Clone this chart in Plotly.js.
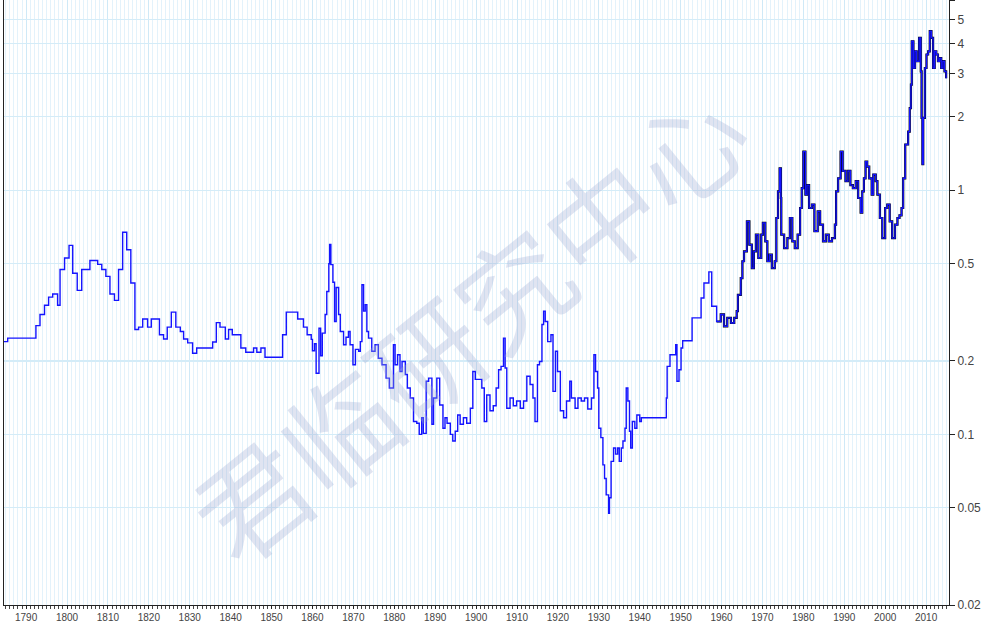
<!DOCTYPE html>
<html>
<head>
<meta charset="utf-8">
<script src="https://cdn.plot.ly/plotly-3.0.1.min.js"></script>
<style>html,body{margin:0;padding:0;background:#fff;}#chart{width:986px;height:624px;}</style>
</head>
<body>
<div id="chart"></div>
<script>
// Annual step data (1784-1859)
const annualYears = [1784.5,1785.5,1792.4,1793.4,1794.5,1795.5,1796.5,1797.7,1798.3,1799.4,1800.5,1801.4,1802.5,1803.6,1805.6,1807.5,1808.5,1809.5,1810.5,1811.6,1812.6,1813.6,1814.6,1815.6,1816.6,1817.5,1818.5,1819.7,1820.6,1822.6,1823.6,1824.5,1825.5,1826.6,1827.7,1828.5,1829.5,1830.7,1831.7,1835.6,1836.5,1837.4,1838.7,1839.5,1840.4,1842.5,1843.7,1845.6,1846.4,1847.4,1848.4,1852.7,1853.6,1856.4,1857.8,1858.7];
const annualValues = [0.240,0.248,0.279,0.31,0.338,0.365,0.376,0.338,0.474,0.528,0.595,0.457,0.389,0.474,0.516,0.497,0.474,0.444,0.376,0.354,0.474,0.673,0.571,0.417,0.269,0.275,0.297,0.275,0.297,0.256,0.246,0.275,0.317,0.275,0.264,0.246,0.237,0.215,0.226,0.239,0.287,0.275,0.246,0.269,0.256,0.226,0.217,0.226,0.217,0.226,0.207,0.256,0.317,0.297,0.275,0.256];

// Sub-annual data (1859-1958)
const periodYears = [1859.7,1860.0,1860.5,1860.9,1861.6,1862.0,1862.4,1863.1,1863.5,1864.0,1864.2,1864.5,1865.0,1865.4,1865.8,1866.4,1866.8,1867.6,1868.2,1868.8,1869.2,1869.9,1870.5,1871.3,1871.7,1872.1,1872.5,1872.9,1873.3,1873.7,1874.5,1875.3,1876.1,1877.0,1878.0,1878.8,1879.8,1880.2,1880.8,1881.4,1881.9,1882.7,1883.2,1883.9,1884.7,1885.5,1886.1,1886.7,1887.1,1887.8,1888.4,1889.2,1889.6,1890.4,1891.1,1891.9,1892.4,1892.9,1893.7,1894.3,1894.9,1895.5,1896.1,1896.9,1897.7,1898.6,1899.2,1899.8,1900.6,1901.4,1902.0,1902.6,1903.4,1904.2,1904.9,1905.5,1906.1,1906.7,1907.1,1907.5,1908.3,1909.1,1909.9,1910.8,1911.6,1912.4,1913.2,1913.9,1914.4,1915.0,1915.5,1916.1,1916.5,1916.9,1917.5,1918.3,1918.8,1919.4,1919.9,1920.6,1921.4,1922.1,1922.9,1923.3,1924.2,1924.9,1925.7,1926.5,1927.3,1928.2,1928.8,1929.2,1929.7,1930.0,1930.5,1931.0,1931.4,1931.8,1932.4,1932.6,1933.0,1933.6,1934.1,1934.6,1935.0,1935.5,1935.9,1936.4,1936.7,1937.1,1937.5,1937.8,1938.2,1938.8,1939.3,1940.0,1940.4,1946.5,1946.7,1947.4,1948.8,1949.1,1949.6,1950.1,1950.5,1952.8,1955.0,1955.7,1956.9,1957.6];
const periodValues = [0.245,0.22,0.235,0.178,0.272,0.21,0.26,0.31,0.385,0.50,0.60,0.496,0.42,0.29,0.40,0.31,0.264,0.233,0.25,0.264,0.233,0.193,0.223,0.219,0.24,0.41,0.32,0.34,0.264,0.248,0.219,0.233,0.205,0.193,0.17,0.155,0.233,0.193,0.212,0.181,0.199,0.176,0.155,0.141,0.113,0.111,0.100,0.117,0.101,0.165,0.17,0.110,0.141,0.17,0.132,0.106,0.117,0.111,0.100,0.094,0.103,0.12,0.11,0.117,0.111,0.128,0.181,0.168,0.168,0.155,0.113,0.145,0.125,0.131,0.155,0.184,0.19,0.248,0.187,0.128,0.141,0.131,0.137,0.128,0.137,0.173,0.16,0.141,0.113,0.193,0.199,0.282,0.32,0.29,0.24,0.256,0.15,0.219,0.181,0.125,0.117,0.137,0.165,0.141,0.128,0.141,0.137,0.141,0.127,0.141,0.212,0.181,0.155,0.106,0.097,0.075,0.066,0.0565,0.0475,0.055,0.0775,0.088,0.083,0.088,0.0775,0.088,0.094,0.106,0.155,0.137,0.103,0.088,0.113,0.106,0.12,0.113,0.117,0.141,0.19,0.212,0.233,0.165,0.184,0.226,0.242,0.30,0.362,0.417,0.463,0.335];

// Modern data (1958-2015)
const modernYears = [1958.8,1959.8,1960.6,1961.4,1962.3,1963.1,1963.7,1964.0,1964.7,1965.1,1965.5,1966.2,1966.8,1967.4,1967.9,1968.4,1969.0,1969.7,1970.1,1970.7,1971.2,1971.7,1972.3,1973.0,1973.4,1973.8,1974.2,1974.5,1974.6,1975.3,1976.1,1976.7,1977.3,1977.9,1978.6,1979.2,1979.6,1980.0,1980.5,1980.9,1981.4,1982.1,1982.7,1983.5,1984.1,1984.8,1985.5,1986.2,1987.0,1987.7,1988.0,1988.5,1989.1,1989.6,1990.3,1990.9,1991.5,1992.1,1992.8,1993.4,1994.0,1994.4,1994.8,1995.2,1995.6,1996.1,1996.7,1997.1,1997.7,1998.1,1998.7,1999.3,2000.0,2000.5,2001.1,2001.7,2002.4,2003.0,2003.5,2004.0,2004.4,2004.9,2005.6,2006.0,2006.3,2006.5,2006.9,2007.3,2007.7,2008.3,2008.7,2008.9,2009.1,2009.3,2009.7,2010.1,2010.5,2010.9,2011.3,2011.7,2012.1,2012.5,2012.9,2013.3,2013.7,2014.1,2014.5,2014.9];
const modernValues = [0.29,0.31,0.277,0.30,0.286,0.30,0.32,0.373,0.437,0.512,0.562,0.746,0.599,0.48,0.562,0.658,0.528,0.658,0.735,0.618,0.512,0.545,0.48,0.512,0.77,0.99,1.23,0.93,0.658,0.58,0.637,0.77,0.618,0.58,0.658,0.846,1.02,1.44,0.96,1.05,0.846,0.874,0.68,0.82,0.723,0.618,0.658,0.618,0.637,0.723,0.99,1.12,1.44,1.20,1.09,1.20,1.05,1.02,1.09,0.93,0.81,0.99,1.12,1.31,1.25,1.12,0.96,1.16,1.09,0.96,0.77,0.637,0.846,0.874,0.746,0.637,0.723,0.77,0.79,0.846,1.12,1.54,1.74,2.17,2.71,4.08,3.17,3.71,3.38,4.21,3.07,1.98,1.28,1.98,3.17,3.6,3.71,4.49,4.21,3.17,3.71,3.6,3.38,3.48,3.17,3.38,3.07,2.88];

const decadeTicks = [1790,1800,1810,1820,1830,1840,1850,1860,1870,1880,1890,1900,1910,1920,1930,1940,1950,1960,1970,1980,1990,2000,2010];
const yTickVals = [0.02,0.05,0.1,0.2,0.5,1,2,3,4,5,6];
const yTickText = ['0.02','0.05','0.1','0.2','0.5','1','2','3','4','5','6'];
const watermark = '君临研究中心';

const allYears = annualYears.concat(periodYears, modernYears);
const allValues = annualValues.concat(periodValues, modernValues);

const traces = [
  {x: modernYears, y: modernValues, type: 'scatter', mode: 'lines',
   line: {color: '#000000', width: 2.2, shape: 'hv'}, hoverinfo: 'skip', showlegend: false},
  {x: allYears, y: allValues, type: 'scatter', mode: 'lines',
   line: {color: '#1414ff', width: 1.4, shape: 'hv'}, showlegend: false}
];

const layout = {
  width: 986, height: 624,
  margin: {l: 4, r: 37, t: 0, b: 19},
  paper_bgcolor: '#ffffff', plot_bgcolor: '#ffffff',
  font: {family: 'Liberation Sans, Arial, sans-serif', size: 11, color: '#444'},
  xaxis: {
    range: [1784.6, 2015.6],
    tickvals: decadeTicks,
    ticks: 'outside', ticklen: 3, tickcolor: '#222', tickwidth: 1,
    showline: true, linecolor: '#222', linewidth: 1,
    showgrid: true, gridcolor: '#cfe9f7', gridwidth: 1,
    minor: {dtick: 1, tick0: 1790, ticks: 'outside', ticklen: 3, tickcolor: '#444', showgrid: true, gridcolor: '#e3f2fb', gridwidth: 1},
    zeroline: false,
    tickfont: {size: 10, color: '#444'}
  },
  yaxis: {
    type: 'log', side: 'right',
    range: [Math.log10(0.02), Math.log10(6.02)],
    tickvals: yTickVals, ticktext: yTickText,
    ticks: 'outside', ticklen: 5, tickcolor: '#222',
    showline: true, mirror: true, linecolor: '#222', linewidth: 1,
    showgrid: true, gridcolor: '#d4ecf8', gridwidth: 1.2,
    zeroline: false,
    tickfont: {size: 12, color: '#444'}
  },
  annotations: [{
    xref: 'paper', yref: 'paper', x: 0.49, y: 0.47,
    text: watermark, showarrow: false, textangle: -39,
    font: {family: 'Noto Sans CJK SC', size: 112, color: 'rgba(160,172,210,0.32)'}
  }]
};

Plotly.newPlot('chart', traces, layout, {staticPlot: true, displayModeBar: false});
</script>
</body>
</html>
